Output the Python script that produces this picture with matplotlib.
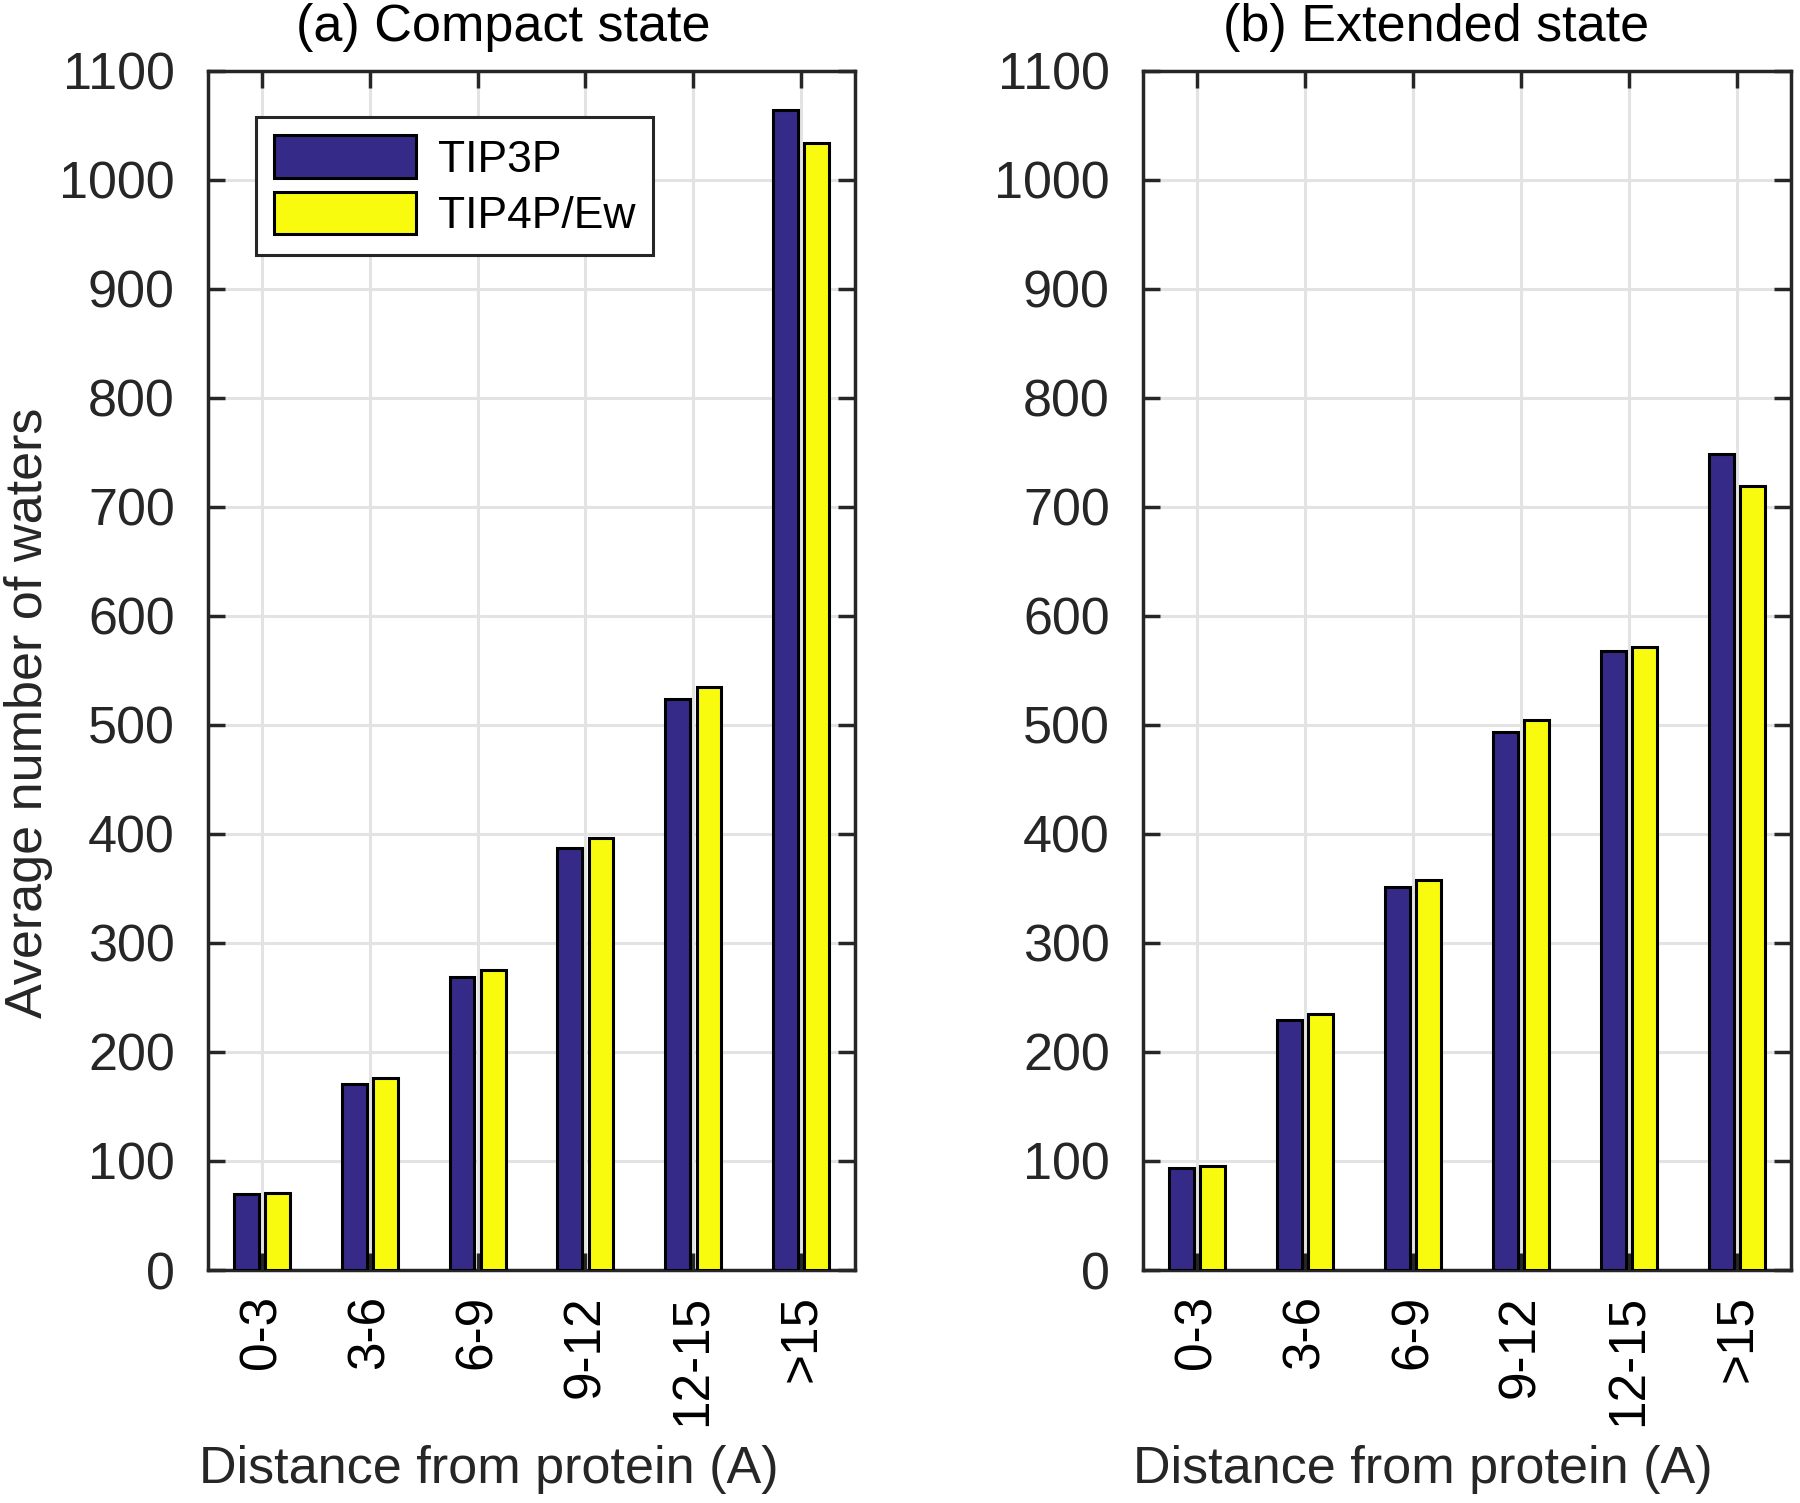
import numpy as np
import matplotlib.pyplot as plt

plt.rcParams['font.family'] = ['Liberation Sans', 'DejaVu Sans']

categories = ['0-3', '3-6', '6-9', '9-12', '12-15', '>15']
compact_tip3p = [70, 171, 269, 387, 524, 1064]
compact_tip4pew = [71, 176, 275, 396, 535, 1034]
extended_tip3p = [94, 229, 351, 493, 568, 748]
extended_tip4pew = [95, 235, 358, 504, 571, 719]
titles = ['(a) Compact state', '(b) Extended state']
yticks = list(range(0, 1101, 100))

blue = '#352A87'
yellow = '#F9FB0E'
axcol = '#262626'
fs = 37.5

fig = plt.figure(figsize=(18, 15.03), dpi=100)
ax1 = fig.add_axes([0.1156, 0.155, 0.3594, 0.798])
ax2 = fig.add_axes([0.635, 0.155, 0.36, 0.798])

x = np.arange(1, len(categories) + 1)
w = 0.23
off = 0.145

# title / xlabel positions in figure fractions (MATLAB put them slightly left of centre)
title_x = [0.2794, 0.798]
xlabel_x = [0.2714, 0.7905]

for i, (ax, a, b) in enumerate([(ax1, compact_tip3p, compact_tip4pew),
                                (ax2, extended_tip3p, extended_tip4pew)]):
    ax.bar(x - off, a, w, color=blue, edgecolor='black', linewidth=2.2, label='TIP3P', zorder=3)
    ax.bar(x + off, b, w, color=yellow, edgecolor='black', linewidth=2.2, label='TIP4P/Ew', zorder=3)
    ax.set_xlim(0.5, 6.5)
    ax.set_ylim(0, 1100)
    ax.set_yticks(yticks)
    ax.set_xticks(x)
    ax.set_xticklabels(categories, rotation=90, fontsize=37, color='black')
    ax.tick_params(axis='y', labelsize=fs, labelcolor=axcol)
    ax.tick_params(direction='in', length=12, width=2.5, color=axcol, top=True, right=True)
    ax.tick_params(axis='y', pad=24)
    ax.tick_params(axis='x', pad=18)
    ax.grid(True, color='#e3e3e3', linewidth=2.2, zorder=0)
    ax.set_axisbelow(True)
    for s in ax.spines.values():
        s.set_color(axcol)
        s.set_linewidth(2.5)
    fig.text(title_x[i], 0.982, titles[i], fontsize=fs, color='black', ha='center', va='center')
    fig.text(xlabel_x[i], 0.022, 'Distance from protein (A)', fontsize=fs, color=axcol,
             ha='center', va='center')

fig.text(0.016, 0.526, 'Average number of waters', fontsize=fs, color=axcol,
         rotation=90, ha='center', va='center')

leg = ax1.legend(loc='upper left', bbox_to_anchor=(0.074, 0.961), fontsize=32,
                 handlelength=3.2, handleheight=1.1, fancybox=False, framealpha=1,
                 edgecolor=axcol, borderpad=0.4, labelspacing=0.25, handletextpad=0.5,
                 borderaxespad=0)
leg.get_frame().set_linewidth(2.2)

fig.savefig('out.png', dpi=100)
